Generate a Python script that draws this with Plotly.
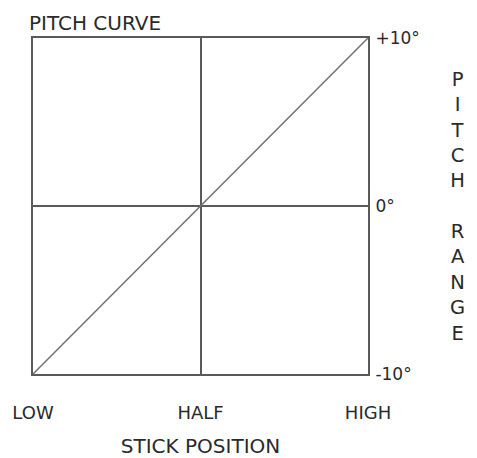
import plotly.graph_objects as go

# stick position (0 = low, 1 = high) vs pitch in degrees
stick = [0, 0.5, 1]
pitch = [-10, 0, 10]
x_ticks = [0, 0.5, 1]
x_labels = ["LOW", "HALF", "HIGH"]
y_ticks = [-10, 0, 10]
y_labels = ["-10°", "0°", "+10°"]

FONT = "DejaVu Sans"
TXT = "#2a2a2a"
LINE = "#5a5a5a"

# page body has an 8px margin, so the figure is a little smaller than the window
W, H = 469, 450

fig = go.Figure()
fig.add_trace(go.Scatter(x=stick, y=pitch, mode="lines",
                         line=dict(color="#707070", width=1.5),
                         showlegend=False, hoverinfo="skip"))

fig.update_layout(
    width=W, height=H,
    margin=dict(l=25, r=109, t=30, b=84),
    plot_bgcolor="white", paper_bgcolor="white",
    font=dict(family=FONT, size=18, color=TXT),
    title=dict(text="PITCH CURVE", x=21 / W, xref="container", xanchor="left",
               y=1 - 15 / H, yref="container", yanchor="middle",
               font=dict(family=FONT, size=20, color=TXT)),
    xaxis=dict(range=[0, 1], tickvals=x_ticks, ticktext=x_labels, automargin=False,
               showgrid=True, gridcolor=LINE, gridwidth=2,
               showline=True, linecolor=LINE, linewidth=2, mirror=True,
               zeroline=False, ticks="outside", ticklen=21, tickcolor="rgba(0,0,0,0)",
               tickfont=dict(size=18),
               title=dict(text="STICK POSITION", standoff=17, font=dict(size=20))),
    yaxis=dict(range=[-10, 10], side="right", tickvals=y_ticks, ticktext=y_labels,
               automargin=False,
               showgrid=True, gridcolor=LINE, gridwidth=2,
               showline=True, linecolor=LINE, linewidth=2, mirror=True,
               zeroline=False, ticks="outside", ticklen=2, tickcolor="rgba(0,0,0,0)",
               tickfont=dict(size=17)),
)

fig.add_annotation(text="P<br>I<br>T<br>C<br>H<br> <br>R<br>A<br>N<br>G<br>E",
                   xref="paper", yref="paper", x=(467 - 33) / 335, y=0.5,
                   showarrow=False, align="center", font=dict(size=19.5, color=TXT))

fig.write_html("out.html")
